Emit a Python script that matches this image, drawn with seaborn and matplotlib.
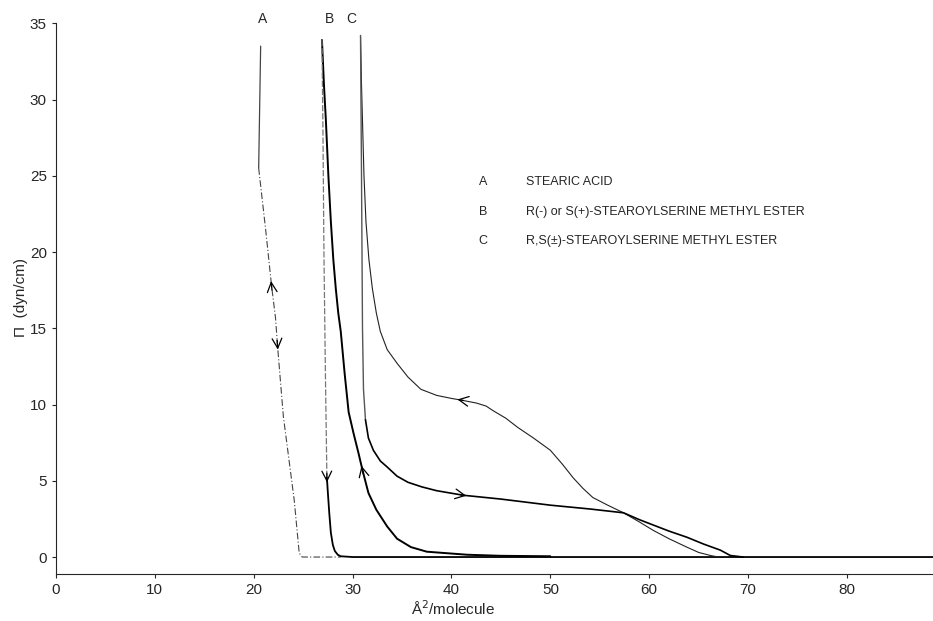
import numpy as np
import pandas as pd
import matplotlib
matplotlib.use("Agg")
import matplotlib.pyplot as plt
import seaborn as sns

# 数据：表面压力-面积等温线
# A 硬脂酸
a_x = [20.7, 20.6, 20.5, 21.2, 21.8, 22.2, 22.4, 23.0, 23.6, 24.1, 24.6, 24.9, 28.8]
a_y = [33.5, 29.5, 25.5, 21.5, 17.8, 15.7, 13.9, 9.2, 6.2, 3.7, 0.26, 0.0, 0.0]
# B 压缩
bc_x = [26.9, 27.1, 27.3, 27.55, 27.8, 28.05, 28.3, 28.55, 28.8, 29.2, 29.6, 30.1, 30.6,
        31.0, 31.6, 32.4, 33.5, 34.5, 35.9, 37.5, 41.6, 45.0, 50.0]
bc_y = [33.9, 31.0, 28.6, 25.0, 22.0, 19.5, 17.6, 16.0, 14.8, 12.0, 9.5, 8.1, 6.8,
        5.7, 4.2, 3.1, 2.0, 1.2, 0.65, 0.35, 0.15, 0.08, 0.05]
# B 扩张
be_x = [26.9, 27.0, 27.1, 27.25, 27.4, 27.5, 27.65, 27.8, 28.0, 28.2, 28.5, 28.8, 30.0, 88.7]
be_y = [33.9, 28.0, 20.0, 12.0, 5.2, 4.2, 2.8, 1.6, 0.8, 0.4, 0.15, 0.05, 0.0, 0.0]
# C 压缩
cc_x = [30.8, 30.9, 31.0, 31.15, 31.35, 31.65, 32.0, 32.4, 32.8, 33.5, 34.5, 35.6, 36.9,
        38.5, 40.0, 40.9, 42.5, 43.5, 44.2, 45.5, 46.7, 48.3, 50.0, 51.2, 52.3, 53.3,
        54.3, 55.8, 57.4, 59.0, 60.4, 62.0, 63.8, 65.0, 66.2, 67.0]
cc_y = [34.2, 31.0, 28.6, 25.0, 22.0, 19.5, 17.6, 16.0, 14.8, 13.6, 12.7, 11.8, 11.0,
        10.6, 10.4, 10.3, 10.1, 9.9, 9.6, 9.1, 8.5, 7.8, 7.0, 6.1, 5.2, 4.5,
        3.9, 3.4, 2.9, 2.3, 1.75, 1.2, 0.65, 0.3, 0.1, 0.0]
# C 扩张
ce_x = [30.8, 30.9, 31.0, 31.1, 31.3, 31.6, 32.1, 32.8, 33.5, 34.5, 35.6, 37.0, 38.5,
        41.2, 45.0, 50.0, 54.0, 57.4, 59.0, 60.4, 62.0, 63.8, 65.5, 67.2, 68.2, 69.5]
ce_y = [34.2, 25.0, 15.0, 11.0, 9.0, 7.8, 7.0, 6.3, 5.9, 5.3, 4.9, 4.6, 4.35,
        4.05, 3.8, 3.4, 3.15, 2.9, 2.45, 2.1, 1.7, 1.3, 0.85, 0.45, 0.1, 0.0]

legend_keys = ["A", "B", "C"]
legend_names = ["STEARIC ACID",
                "R(-) or S(+)-STEAROYLSERINE METHYL ESTER",
                "R,S(±)-STEAROYLSERINE METHYL ESTER"]

sns.set_style("ticks")
plt.rcParams['font.family'] = ['Liberation Sans', 'DejaVu Sans']

fig, ax = plt.subplots(figsize=(9.33, 6.21), dpi=100)
fig.subplots_adjust(left=0.06, right=1.0, top=0.965, bottom=0.076)


def draw(x, y, **kw):
    d = pd.DataFrame({"x": x, "y": y})
    sns.lineplot(data=d, x="x", y="y", sort=False, estimator=None, ax=ax, **kw)


def arrow(x, y, at, by="y", reverse=False):
    # 在曲线上给定 y（或 x）值处画箭头
    x = np.asarray(x, float)
    y = np.asarray(y, float)
    v = y if by == "y" else x
    for i in range(len(v) - 1):
        lo, hi = sorted((v[i], v[i + 1]))
        if lo <= at <= hi and hi > lo:
            t = (at - v[i]) / (v[i + 1] - v[i])
            px = x[i] + t * (x[i + 1] - x[i])
            py = y[i] + t * (y[i + 1] - y[i])
            dx, dy = x[i + 1] - x[i], y[i + 1] - y[i]
            break
    if reverse:
        dx, dy = -dx, -dy
    n = np.hypot(dx, dy)
    dx, dy = dx / n * 0.3, dy / n * 0.3
    ax.annotate("", xy=(px + dx, py + dy), xytext=(px - dx, py - dy),
                arrowprops=dict(arrowstyle="->,head_length=0.7,head_width=0.35",
                                color="black", lw=0.9, shrinkA=0, shrinkB=0))


# A
draw(a_x[:3], a_y[:3], color="#444444", lw=0.9)
draw(a_x[2:], a_y[2:], color="#444444", lw=0.8, linestyle=(0, (6, 2, 1, 2)))
# B
draw(bc_x, bc_y, color="black", lw=1.4)
draw(be_x[:5], be_y[:5], color="#777777", lw=0.9, linestyle=(0, (5, 1.5)))
draw(be_x[4:], be_y[4:], color="black", lw=1.3)
# C
draw(cc_x, cc_y, color="#222222", lw=0.8)
draw(ce_x[:5], ce_y[:5], color="#555555", lw=1.0)
draw(ce_x[4:], ce_y[4:], color="black", lw=1.2)

arrow(a_x, a_y, 17.8, reverse=True)
arrow(a_x, a_y, 13.9)
arrow(bc_x, bc_y, 5.7, reverse=True)
arrow(be_x, be_y, 5.2)
arrow(cc_x, cc_y, 40.9, by="x", reverse=True)
arrow(ce_x, ce_y, 41.2, by="x")

# 曲线标签
for lab, lx in zip(legend_keys, [20.9, 27.7, 29.9]):
    ax.text(lx, 35.25, lab, ha="center", va="center", fontsize=10, clip_on=False)

# 图例文字
for k, (key, name) in enumerate(zip(legend_keys, legend_names)):
    yy = 24.6 - k * 1.95
    ax.text(43.2, yy, key, ha="center", va="center", fontsize=9)
    ax.text(47.5, yy, name, ha="left", va="center", fontsize=9)

ax.set_xlim(0, 88.7)
ax.set_ylim(-1.1, 35.1)
ax.set_xticks(np.arange(0, 81, 10))
ax.set_yticks(np.arange(0, 36, 5))
ax.tick_params(labelsize=11, length=3, width=0.8)
ax.spines["top"].set_visible(False)
ax.spines["right"].set_visible(False)
ax.spines["left"].set_bounds(-1.1, 35)
ax.set_xlabel("Å$^2$/molecule", fontsize=11)
ax.set_ylabel("Π  (dyn/cm)", fontsize=11)
ax.xaxis.set_label_coords(0.453, -0.047)
ax.yaxis.set_label_coords(-0.032, 0.5)

plt.savefig("out.png", dpi=100)
